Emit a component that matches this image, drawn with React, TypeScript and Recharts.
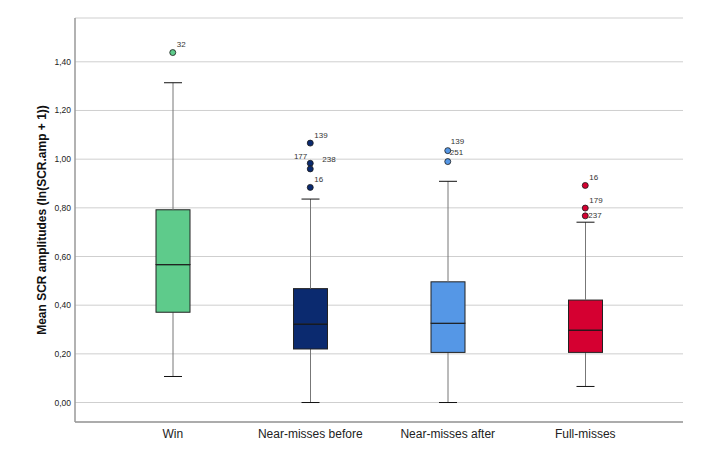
import React from "react";
import {
  ComposedChart,
  Bar,
  Scatter,
  XAxis,
  YAxis,
  CartesianGrid,
} from "recharts";

// Box plot summary per condition
const categories = ["Win", "Near-misses before", "Near-misses after", "Full-misses"];
const whiskerLow = [0.107, 0.0, 0.0, 0.066];
const q1 = [0.371, 0.22, 0.206, 0.206];
const medians = [0.567, 0.323, 0.326, 0.298];
const q3 = [0.792, 0.468, 0.496, 0.421];
const whiskerHigh = [1.314, 0.836, 0.909, 0.741];

// Outliers
const outlierCategory = [
  "Win",
  "Near-misses before",
  "Near-misses before",
  "Near-misses before",
  "Near-misses before",
  "Near-misses after",
  "Near-misses after",
  "Full-misses",
  "Full-misses",
  "Full-misses",
];
const outlierValues = [1.438, 1.066, 0.983, 0.96, 0.884, 1.035, 0.99, 0.892, 0.799, 0.767];
const outlierIds = ["32", "139", "177", "238", "16", "139", "251", "16", "179", "237"];

const yTicks = [0, 0.2, 0.4, 0.6, 0.8, 1.0, 1.2, 1.4];

const boxColors = ["#5ECB8B", "#0B2A6F", "#5597E6", "#D50031"];

// label placement tweaks so the case numbers don't collide
const labelNudge: Record<number, { dx: number; dy: number; anchor?: string }> = {
  2: { dx: -3, dy: -7, anchor: "end" },
  3: { dx: 12, dy: -9 },
  5: { dx: 3, dy: -9 },
  6: { dx: 2, dy: -9 },
  9: { dx: 3, dy: 0 },
};

const table = categories.map((name, i) => ({
  name,
  color: boxColors[i],
  base: whiskerLow[i],
  lowWhisker: q1[i] - whiskerLow[i],
  lowBox: medians[i] - q1[i],
  highBox: q3[i] - medians[i],
  highWhisker: whiskerHigh[i] - q3[i],
}));

const outliers = outlierValues.map((value, i) => ({
  name: outlierCategory[i],
  value,
  id: outlierIds[i],
  idx: i,
  color: boxColors[categories.indexOf(outlierCategory[i])],
}));

const FONT = '"Liberation Sans", Arial, Helvetica, sans-serif';
const CAP = 9;

const LowerWhisker = (props: any) => {
  const { x, y, width, height } = props;
  const cx = x + width / 2;
  return (
    <g>
      <line x1={cx} x2={cx} y1={y} y2={y + height} stroke="#777" strokeWidth={1} />
      <line x1={cx - CAP} x2={cx + CAP} y1={y + height} y2={y + height} stroke="#111" strokeWidth={1} />
    </g>
  );
};

const UpperWhisker = (props: any) => {
  const { x, y, width, height } = props;
  const cx = x + width / 2;
  return (
    <g>
      <line x1={cx} x2={cx} y1={y} y2={y + height} stroke="#777" strokeWidth={1} />
      <line x1={cx - CAP} x2={cx + CAP} y1={y} y2={y} stroke="#111" strokeWidth={1} />
    </g>
  );
};

const LowerBox = (props: any) => {
  const { x, y, width, height, payload } = props;
  return (
    <g>
      <rect x={x} y={y} width={width} height={height} fill={payload.color} stroke="#222" strokeWidth={1} />
      <line x1={x} x2={x + width} y1={y} y2={y} stroke="#000" strokeWidth={1.2} />
    </g>
  );
};

const UpperBox = (props: any) => {
  const { x, y, width, height, payload } = props;
  return (
    <rect x={x} y={y} width={width} height={height} fill={payload.color} stroke="#222" strokeWidth={1} />
  );
};

const OutlierDot = (props: any) => {
  const { cx, cy, payload } = props;
  const n = labelNudge[payload.idx] || { dx: 4, dy: -8 };
  return (
    <g>
      <circle cx={cx} cy={cy} r={3} fill={payload.color} stroke="#1a1a1a" strokeWidth={0.8} />
      <text
        x={cx + n.dx}
        y={cy + n.dy}
        textAnchor={n.anchor || "start"}
        dominantBaseline="central"
        fontSize={8}
        fill="#333"
        fontFamily={FONT}
      >
        {payload.id}
      </text>
    </g>
  );
};

const YLabel = (props: any) => {
  const { viewBox } = props;
  const cx = viewBox.x + 42;
  const cy = viewBox.y + viewBox.height / 2;
  return (
    <text
      x={cx}
      y={cy}
      transform={`rotate(-90, ${cx}, ${cy})`}
      textAnchor="middle"
      dominantBaseline="central"
      fontSize={12}
      fontWeight="bold"
      fill="#111"
      fontFamily={FONT}
    >
      Mean SCR amplitudes (ln(SCR.amp + 1))
    </text>
  );
};

export default function App() {
  return (
    <div
      style={{
        position: "absolute",
        left: 0,
        top: 0,
        width: 720,
        height: 461,
        background: "#fff",
        fontFamily: FONT,
      }}
    >
      <ComposedChart
        width={720}
        height={461}
        data={table}
        margin={{ top: 18, right: 37, bottom: 9, left: 0 }}
        barSize={34}
      >
        <CartesianGrid vertical={false} stroke="#cfcfcf" strokeWidth={1} />
        <XAxis
          dataKey="name"
          type="category"
          allowDuplicatedCategory={false}
          padding={{ left: 29, right: 29 }}
          height={30}
          tickLine={false}
          tickSize={5}
          tickMargin={2}
          axisLine={{ stroke: "#999", strokeWidth: 1.5 }}
          tick={{ fill: "#222", fontSize: 12, fontFamily: FONT }}
        />
        <YAxis
          width={75}
          domain={[-0.08, 1.58]}
          ticks={yTicks}
          allowDataOverflow
          tickLine={false}
          tickSize={0}
          tickMargin={4}
          axisLine={{ stroke: "#999", strokeWidth: 1.5 }}
          tick={{ fill: "#222", fontSize: 8.5, fontFamily: FONT }}
          tickFormatter={(v: number) => v.toFixed(2).replace(".", ",")}
          label={<YLabel />}
        />
        <Bar dataKey="base" stackId="box" fill="transparent" isAnimationActive={false} />
        <Bar dataKey="lowWhisker" stackId="box" shape={<LowerWhisker />} isAnimationActive={false} />
        <Bar dataKey="lowBox" stackId="box" shape={<LowerBox />} isAnimationActive={false} />
        <Bar dataKey="highBox" stackId="box" shape={<UpperBox />} isAnimationActive={false} />
        <Bar dataKey="highWhisker" stackId="box" shape={<UpperWhisker />} isAnimationActive={false} />
        <Scatter data={outliers} dataKey="value" shape={<OutlierDot />} isAnimationActive={false} />
      </ComposedChart>
    </div>
  );
}
